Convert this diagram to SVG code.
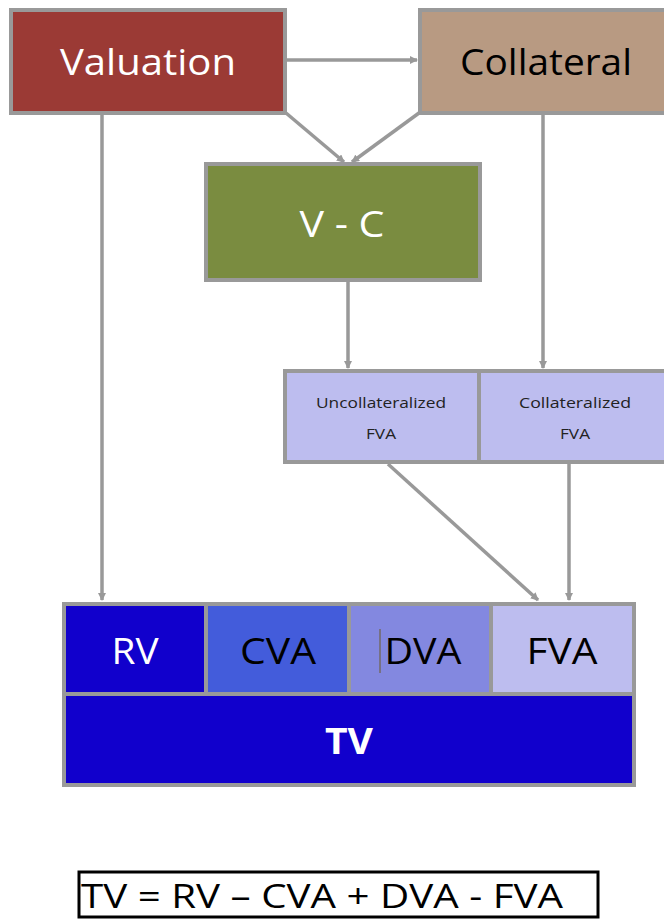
<svg xmlns="http://www.w3.org/2000/svg" width="664" height="920" viewBox="0 0 664 920">
<defs>
<marker id="ah" markerWidth="8" markerHeight="8" refX="7" refY="4" orient="auto" markerUnits="userSpaceOnUse">
<path d="M0,0 L8,4 L0,8 Z" fill="#999999"/>
</marker>
<style>
.box{stroke:#999999;stroke-width:4}
.t{font-family:"Open Sans","Noto Sans","DejaVu Sans",sans-serif;text-anchor:middle;dominant-baseline:central}
.con{stroke:#999999;stroke-width:3.5;fill:none;marker-end:url(#ah)}
</style>
</defs>
<rect width="664" height="920" fill="#ffffff"/>
<g id="connectors">
<line class="con" x1="286" y1="60" x2="417" y2="60"/>
<line class="con" x1="286" y1="113" x2="344" y2="162"/>
<line class="con" x1="419" y1="113" x2="352" y2="162"/>
<line class="con" x1="102" y1="114" x2="102" y2="600"/>
<line class="con" x1="543" y1="114" x2="543" y2="368"/>
<line class="con" x1="348" y1="282" x2="348" y2="368"/>
<line class="con" x1="388" y1="464" x2="538" y2="600"/>
<line class="con" x1="569" y1="464" x2="569" y2="600"/>
</g>
<g id="valuation">
<rect class="box" x="11" y="10" width="274" height="103" fill="#9B3A35"/>
<text class="t" x="148" y="60" font-size="37" fill="#ffffff" textLength="176" lengthAdjust="spacingAndGlyphs">Valuation</text>
</g>
<g id="collateral">
<rect class="box" x="420" y="10" width="250" height="103" fill="#B89A82"/>
<text class="t" x="546" y="60" font-size="37" fill="#000000" textLength="172" lengthAdjust="spacingAndGlyphs">Collateral</text>
</g>
<g id="vc">
<rect class="box" x="206" y="164" width="274" height="116" fill="#7A8C40"/>
<text class="t" x="342" y="222" font-size="37" fill="#ffffff" textLength="85" lengthAdjust="spacingAndGlyphs">V - C</text>
</g>
<g id="uncoll">
<rect class="box" x="285" y="371" width="194" height="91" fill="#BDBDEF"/>
<text class="t" x="381" y="402" font-size="15" fill="#222222" textLength="130" lengthAdjust="spacingAndGlyphs">Uncollateralized</text>
<text class="t" x="381" y="433" font-size="15" fill="#222222" textLength="30" lengthAdjust="spacingAndGlyphs">FVA</text>
</g>
<g id="coll">
<rect class="box" x="479" y="371" width="190" height="91" fill="#BDBDEF"/>
<text class="t" x="575" y="402" font-size="15" fill="#222222" textLength="112" lengthAdjust="spacingAndGlyphs">Collateralized</text>
<text class="t" x="575" y="433" font-size="15" fill="#222222" textLength="30" lengthAdjust="spacingAndGlyphs">FVA</text>
</g>
<g id="rv">
<rect class="box" x="64" y="604" width="142" height="90" fill="#1100CC"/>
<text class="t" x="135" y="650" font-size="36" fill="#ffffff" textLength="47" lengthAdjust="spacingAndGlyphs">RV</text>
</g>
<g id="cva">
<rect class="box" x="206" y="604" width="143" height="90" fill="#435CDB"/>
<text class="t" x="278" y="650" font-size="36" fill="#000000" textLength="76" lengthAdjust="spacingAndGlyphs">CVA</text>
</g>
<g id="dva">
<rect class="box" x="349" y="604" width="142" height="90" fill="#8388E0"/>
<text class="t" x="423" y="650" font-size="36" fill="#000000" textLength="77" lengthAdjust="spacingAndGlyphs">DVA</text>
<line x1="380" y1="629" x2="380" y2="673" stroke="#6b5a2a" stroke-width="1"/>
</g>
<g id="fva">
<rect class="box" x="491" y="604" width="143" height="90" fill="#BDBDEF"/>
<text class="t" x="562" y="650" font-size="36" fill="#000000" textLength="71" lengthAdjust="spacingAndGlyphs">FVA</text>
</g>
<g id="tv">
<rect class="box" x="64" y="694" width="570" height="91" fill="#1100CC"/>
<text class="t" x="349" y="740" font-size="36" font-weight="bold" fill="#ffffff" textLength="48" lengthAdjust="spacingAndGlyphs">TV</text>
</g>
<g id="formula">
<rect x="79" y="872" width="519" height="45" fill="#ffffff" stroke="#000000" stroke-width="3"/>
<text x="81" y="908" font-family="Open Sans, Noto Sans, DejaVu Sans, sans-serif" font-size="33" fill="#000000" textLength="482" lengthAdjust="spacingAndGlyphs">TV = RV – CVA + DVA - FVA</text>
</g>
</svg>
